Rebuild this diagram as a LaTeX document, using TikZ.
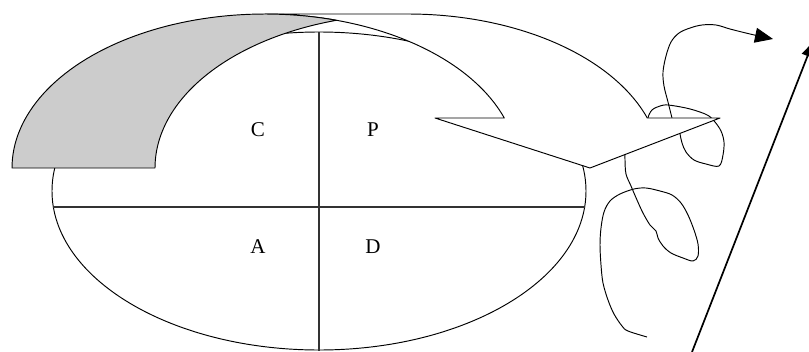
\documentclass[tikz,border=0pt]{standalone}
\usepackage{fontspec}
\setmainfont{Liberation Serif}
\usetikzlibrary{arrows.meta}
\begin{document}
\begin{tikzpicture}[x=1pt,y=-1pt,line join=round,
  outline/.style={draw=black,line width=0.95pt},
  divider/.style={draw=black!80,line width=1.1pt},
  letter/.style={font=\fontsize{21}{24}\selectfont,inner sep=0pt},
  squiggle/.style={draw=black,line width=0.95pt},
  backband/.style={outline,fill=black!20},
  frontband/.style={outline,fill=white}]
\useasboundingbox (0,0) rectangle (809,351);
\clip (0,0) rectangle (809,351);
% PDCA ellipse
\coordinate (ctr) at (319,191);
\draw[outline] (ctr) ellipse [x radius=267, y radius=159];
\coordinate (hl) at (53.4,207);
\coordinate (hr) at (584.6,207);
\coordinate (vt) at (319,32);
\coordinate (vb) at (319,351);
\draw[divider] (hl) -- (hr);
\draw[divider] (vt) -- (vb);
\node[letter] (C) at (258,130) {C};
\node[letter] (P) at (373,130) {P};
\node[letter] (A) at (258,247) {A};
\node[letter] (D) at (373,247) {D};
% squiggles (drawn beneath the arrow)
\draw[squiggle] plot[smooth,tension=0.55] coordinates {
 (647,337) (628,331) (622,326) (614,314) (608,300) (603,283) (601,265) (600,245)
 (601,228) (604,212) (610,201) (620,194) (634,189) (646,188) (660,191) (672,195)
 (681,203) (688,215) (694,230) (698,244) (698,256) (693,261) (683,258) (671,253)
 (663,246) (658,238) (656,231) (650,225) (643,213) (637,200) (631,186) (626,174)
 (625,160) (625,150)};
\draw[squiggle] plot[smooth,tension=0.55] coordinates {
 (650,125) (648,118) (652,110) (660,106) (668,105) (686,108) (700,112) (709,116)
 (715,122) (721,131) (724,142) (723,155) (719,166) (706,164) (694,160) (686,152)
 (682,143) (680,134) (678,127)};
\draw[squiggle,-{Triangle[length=18pt,width=15pt]}] plot[smooth,tension=0.55] coordinates {
 (674,126) (672,118) (668,102) (664,86) (663,72) (666,56) (671,42) (679,33)
 (690,28) (702,25) (716,25) (730,29) (750,34) (773,39)};
% curved arrow: front band with head
\coordinate (tip) at (590,168);
\coordinate (hinL) at (435,118);
\coordinate (hinR) at (720,118);
\filldraw[frontband] (tip) -- (hinL) -- (504.3,118)
  -- plot[domain=18.95:90,samples=60] ({265+253*cos(\x)},{168-154*sin(\x)})
  -- (408,14)
  -- plot[domain=90:18.95,samples=60] ({408+253*cos(\x)},{168-154*sin(\x)})
  -- (hinR) -- cycle;
% back band (shaded)
\filldraw[backband] plot[domain=106.42:180,samples=60] ({408+253*cos(\x)},{168-154*sin(\x)})
  -- (12,168)
  -- plot[domain=180:73.58,samples=60] ({265+253*cos(\x)},{168-154*sin(\x)})
  -- cycle;
% straight arrow
\coordinate (sa) at (692,352);
\coordinate (sb) at (813,42);
\draw[line width=1.7pt,-{Triangle[length=15pt,width=12pt]}] (sa) -- (sb);
\end{tikzpicture}
\end{document}
